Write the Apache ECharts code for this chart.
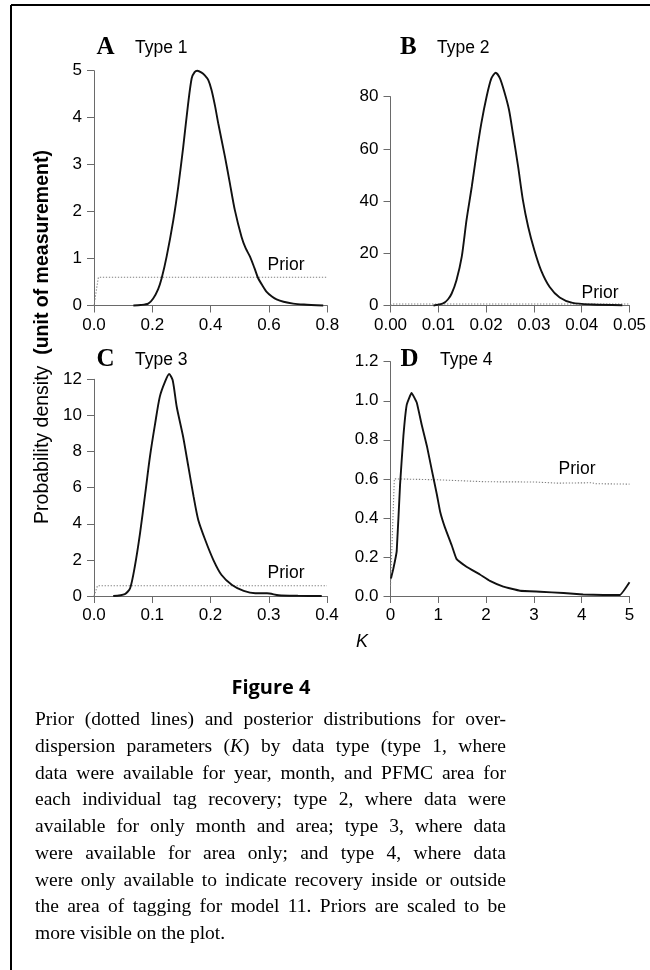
<!DOCTYPE html>
<html>
<head>
<meta charset="utf-8">
<script src="https://cdn.jsdelivr.net/npm/echarts@6/dist/echarts.min.js"></script>
<style>html,body{margin:0;padding:0;background:#fff;}#c{width:650px;height:970px;}</style>
</head>
<body>
<div id="c"></div>
<script>
// ---- Data ----
const xTicksA = ['0.0','0.2','0.4','0.6','0.8'];
const yTicksA = ['0','1','2','3','4','5'];
const xTicksB = ['0.00','0.01','0.02','0.03','0.04','0.05'];
const yTicksB = ['0','20','40','60','80'];
const xTicksC = ['0.0','0.1','0.2','0.3','0.4'];
const yTicksC = ['0','2','4','6','8','10','12'];
const xTicksD = ['0','1','2','3','4','5'];
const yTicksD = ['0.0','0.2','0.4','0.6','0.8','1.0','1.2'];

const postA = [[0.135,0],[0.16,0.01],[0.186,0.04],[0.203,0.15],[0.22,0.35],[0.232,0.58],[0.249,1.04],[0.272,1.82],[0.289,2.53],[0.306,3.38],[0.323,4.31],[0.335,4.84],[0.345,4.97],[0.354,5.0],[0.369,4.96],[0.38,4.90],[0.392,4.80],[0.403,4.59],[0.415,4.25],[0.426,3.88],[0.449,3.17],[0.466,2.60],[0.483,2.03],[0.506,1.46],[0.52,1.22],[0.535,1.04],[0.55,0.80],[0.563,0.58],[0.578,0.42],[0.592,0.29],[0.61,0.19],[0.626,0.13],[0.65,0.08],[0.683,0.04],[0.72,0.02],[0.786,0.0]];
const priorA = [[0,0],[0.015,0.6],[0.8,0.6]];

const postB = [[0.009,0],[0.011,0.77],[0.012,2.3],[0.0128,4.6],[0.0138,9.7],[0.0149,18.6],[0.0159,32.7],[0.017,45.5],[0.018,58.3],[0.019,69.8],[0.0201,80],[0.0211,87],[0.022,89.2],[0.0229,87],[0.0239,81.3],[0.0248,74.9],[0.0256,66],[0.0267,53.2],[0.0277,40.4],[0.0288,30.2],[0.0301,21.2],[0.0315,13.5],[0.0333,7.1],[0.0354,3.1],[0.0381,1.0],[0.0423,0.4],[0.0485,0.1]];
const priorB = [[0,0],[0.0005,0.6],[0.05,0.6]];

const postC = [[0.033,0],[0.053,0.11],[0.062,0.43],[0.07,1.62],[0.079,3.47],[0.088,5.69],[0.096,7.71],[0.105,9.56],[0.113,11.04],[0.122,11.87],[0.129,12.29],[0.135,11.96],[0.142,10.48],[0.153,8.82],[0.162,7.16],[0.171,5.5],[0.179,4.21],[0.191,3.1],[0.205,1.99],[0.219,1.16],[0.237,0.61],[0.257,0.28],[0.277,0.15],[0.297,0.15],[0.317,0.04],[0.35,0.01],[0.391,0]];
const priorC = [[0,0],[0.006,0.57],[0.4,0.57]];

const postD = [[0.01,0.09],[0.06,0.14],[0.13,0.23],[0.2,0.57],[0.27,0.82],[0.34,0.98],[0.44,1.04],[0.55,0.99],[0.65,0.88],[0.76,0.77],[0.86,0.65],[0.97,0.52],[1.04,0.43],[1.14,0.35],[1.28,0.26],[1.38,0.19],[1.59,0.15],[1.87,0.11],[2.08,0.077],[2.36,0.048],[2.71,0.027],[3.13,0.022],[3.62,0.015],[4.03,0.008],[4.45,0.005],[4.8,0.005],[5.0,0.07]];
const priorD = [[0,0.05],[0.08,0.6],[0.1,0.595],[1,0.595],[1.5,0.59],[2,0.585],[3,0.584],[3.5,0.578],[4.2,0.58],[4.3,0.575],[5,0.573]];

const panelLetters = ['A','B','C','D'];
const panelTypes = ['Type 1','Type 2','Type 3','Type 4'];
const priorLabel = 'Prior';
const yTitleNormal = 'Probability density';
const yTitleBold = '(unit of measurement)';
const xTitle = 'K';
const figTitle = 'Figure 4';
const capLines = [
  'Prior (dotted lines) and posterior distributions for over-',
  'dispersion parameters (K) by data type (type 1, where',
  'data were available for year, month, and PFMC area for',
  'each individual tag recovery; type 2, where data were',
  'available for only month and area; type 3, where data',
  'were available for area only; and type 4, where data',
  'were only available to indicate recovery inside or outside',
  'the area of tagging for model 11. Priors are scaled to be',
  'more visible on the plot.'
];

// ---- Layout / styling ----
const SANS = '"Liberation Sans", Arial, Helvetica, sans-serif';
const SERIF = '"Liberation Serif", "Times New Roman", serif';
const AXC = '#6a6a6a';
const grids = [
  {left:94, top:70.7, width:233.3, height:234.8},
  {left:390.5, top:96.7, width:239, height:208.8},
  {left:94, top:379.3, width:233, height:216.7},
  {left:390.5, top:361.7, width:239, height:234.3}
];
const xTicks = [xTicksA,xTicksB,xTicksC,xTicksD];
const yTicks = [yTicksA,yTicksB,yTicksC,yTicksD];
const posts = [postA,postB,postC,postD];
const priors = [priorA,priorB,priorC,priorD];

function axisFromTicks(ticks, type, gi) {
  const vals = ticks.map(Number);
  const dec = (ticks[1].split('.')[1] || '').length;
  return {
    type:'value', gridIndex:gi, min:vals[0], max:vals[vals.length-1],
    interval: +(vals[1]-vals[0]).toFixed(6),
    axisLine:{show:true, onZero:false, lineStyle:{color:AXC, width:1}},
    axisTick:{show:true, length:7, lineStyle:{color:AXC, width:1}},
    splitLine:{show:false},
    axisLabel:{
      color:'#000', fontFamily:SANS, fontSize:17,
      margin: type==='x' ? 11 : 12,
      formatter: v => Number(v).toFixed(dec)
    }
  };
}

const xAxes = [], yAxes = [], series = [];
for (let i=0;i<4;i++){
  xAxes.push(axisFromTicks(xTicks[i],'x',i));
  yAxes.push(axisFromTicks(yTicks[i],'y',i));
  series.push({
    type:'line', xAxisIndex:i, yAxisIndex:i, data:priors[i], symbol:'none',
    clip:false, silent:true,
    lineStyle:{color:'#808080', width:1.1, type:[1.3,1.7]}
  });
  series.push({
    type:'line', xAxisIndex:i, yAxisIndex:i, data:posts[i], symbol:'none',
    smooth: i===3 ? 0.1 : 0.25, clip:false, silent:true,
    lineStyle:{color:'#111', width:1.9}
  });
}

const graphics = [];
// frame
graphics.push({type:'line', shape:{x1:11, y1:5, x2:650, y2:5}, style:{stroke:'#000', lineWidth:2}});
graphics.push({type:'line', shape:{x1:11, y1:5, x2:11, y2:970}, style:{stroke:'#000', lineWidth:2}});

function txt(x, y, text, o) {
  o = o || {};
  return {type:'text', x:x, y:y, rotation:o.rotation||0, silent:true, style:Object.assign({
    text:text, fill:'#000', fontFamily:SANS, fontSize:17,
    textAlign:o.align||'left', align:o.align||'left',
    textVerticalAlign:'middle', verticalAlign:'middle'
  }, o.style||{})};
}
const letterPos = [[96.5,48],[400,47.5],[96.5,359.5],[400.5,360]];
const typePos = [[135,48],[437,48],[135,360],[440,360]];
for (let i=0;i<4;i++){
  graphics.push(txt(letterPos[i][0], letterPos[i][1], panelLetters[i], {style:{fontFamily:SERIF, fontWeight:'bold', fontSize:25}}));
  graphics.push(txt(typePos[i][0], typePos[i][1], panelTypes[i], {style:{fontSize:17.5}}));
}
const priorPos = [[286,265],[600,293],[286,573],[577,469]];
priorPos.forEach(p => graphics.push(txt(p[0], p[1], priorLabel, {align:'center', style:{fontSize:17.5}})));

// y title (rotated)
graphics.push({type:'text', x:43, y:337, rotation:Math.PI/2, silent:true, style:{
  text:'{n|' + yTitleNormal + '}  {b|' + yTitleBold + '}',
  align:'center', textAlign:'center', verticalAlign:'middle', textVerticalAlign:'middle',
  fontFamily:SANS, fontSize:19.5, fill:'#000',
  rich:{ n:{fontFamily:SANS, fontSize:19.5, fill:'#000'}, b:{fontFamily:SANS, fontSize:19.5, fontWeight:'bold', fill:'#000'} }
}});
// x title
graphics.push(txt(362, 642, xTitle, {align:'center', style:{fontStyle:'italic', fontSize:18}}));
// figure title
graphics.push(txt(271, 688, figTitle, {align:'center', style:{fontFamily:'"Open Sans", "Noto Sans", sans-serif', fontWeight:'bold', fontSize:20}}));

// caption, justified
(function(){
  const ctx = document.createElement('canvas').getContext('2d');
  const fs = 19.5;
  const L = 35, R = 506, y0 = 720, lh = 26.75;
  function m(t, it){ ctx.font = (it?'italic ':'') + fs + 'px ' + SERIF; return ctx.measureText(t).width; }
  function wordW(w){ if (w.indexOf('(K)')>=0){ return m(w.replace('K','')) + m('K', true); } return m(w); }
  capLines.forEach((line, i) => {
    const words = line.split(' ');
    const ws = words.map(wordW);
    const tot = ws.reduce((a,b)=>a+b,0);
    const last = i === capLines.length-1;
    const gap = last ? m(' ') : (R-L-tot)/(words.length-1);
    let x = L;
    const y = y0 + i*lh;
    words.forEach((w, k) => {
      const t = w.indexOf('(K)')>=0 ? w.replace('(K)','({i|K})') : w;
      graphics.push({type:'text', x:x, y:y, silent:true, style:{
        text:t, fill:'#000', fontFamily:SERIF, fontSize:fs,
        align:'left', textAlign:'left', verticalAlign:'middle', textVerticalAlign:'middle',
        rich:{i:{fontFamily:SERIF, fontSize:fs, fontStyle:'italic', fill:'#000'}}
      }});
      x += ws[k] + gap;
    });
  });
})();

const chart = echarts.init(document.getElementById('c'), null, {renderer:'canvas'});
chart.setOption({
  backgroundColor:'#fff',
  animation:false,
  grid:grids.map(g => Object.assign({containLabel:false}, g)),
  xAxis:xAxes, yAxis:yAxes, series:series, graphic:graphics
});
</script>
</body>
</html>
